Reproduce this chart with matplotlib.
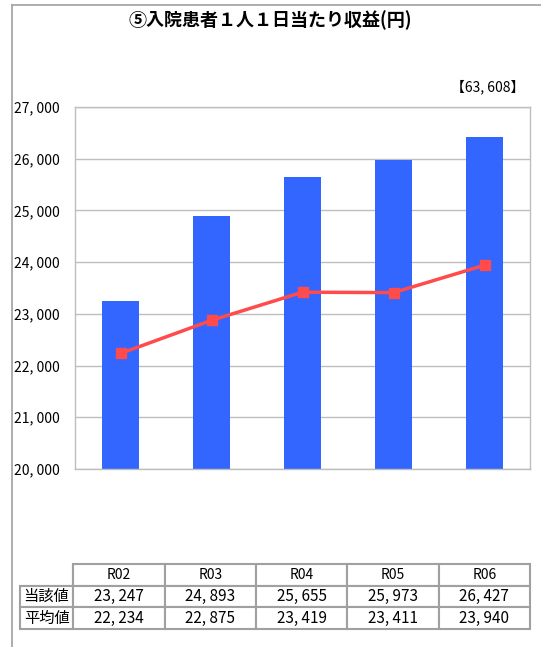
import matplotlib
matplotlib.use("Agg")
import matplotlib.pyplot as plt
from matplotlib.lines import Line2D
import numpy as np

plt.rcParams['font.family'] = ['Noto Sans CJK JP', 'DejaVu Sans']

# data
years = ['R02', 'R03', 'R04', 'R05', 'R06']
own_values = [23247, 24893, 25655, 25973, 26427]
avg_values = [22234, 22875, 23419, 23411, 23940]
row_labels = ['当該値', '平均値']
title = '⑤入院患者１人１日当たり収益(円)'
note = '【63, 608】'

BAR_COLOR = '#3366FF'
LINE_COLOR = '#FF4B4B'
GRID_COLOR = '#BEBEBE'


def fmt(v):
    return '{:,}'.format(v).replace(',', ', ')


fig = plt.figure(figsize=(5.41, 6.47), dpi=100)
W, H = 541, 647
ax = fig.add_axes([75 / W, 1 - 469 / H, 455 / W, 362 / H])

x = np.arange(len(years))
ax.bar(x, own_values, width=0.4, color=BAR_COLOR, zorder=2)
ax.plot(x, avg_values, color=LINE_COLOR, lw=2.5, marker='s', ms=7, zorder=3)

ax.set_xlim(-0.5, len(years) - 0.5)
ax.set_ylim(20000, 27000)
yt = np.arange(20000, 27001, 1000)
ax.set_yticks(yt)
ax.set_yticklabels([fmt(v) for v in yt], fontsize=10)
ax.set_xticks([])
ax.tick_params(axis='y', length=0, pad=11)
ax.grid(axis='y', color=GRID_COLOR, lw=1, zorder=0)
for s in ax.spines.values():
    s.set_color(GRID_COLOR)
    s.set_linewidth(1)

# data table under the plot
cell_text = [[fmt(v) for v in own_values], [fmt(v) for v in avg_values]]
tbl_rows = [[''] + years] + [[lab] + row for lab, row in zip(row_labels, cell_text)]
label_w = 53 / 455
col_w = 1.0 / len(years)
tbl = ax.table(cellText=tbl_rows, cellLoc='center',
               colWidths=[label_w] + [col_w] * len(years),
               bbox=[-55 / 455, -160 / 362, 1 + 55 / 455, 65 / 362])
tbl.auto_set_font_size(False)
for (r, c), cell in tbl.get_celld().items():
    cell.set_edgecolor('#A0A0A0')
    cell.set_linewidth(1.5)
    cell.get_text().set_fontsize(11 if r > 0 else 10)
    if r == 0 and c == 0:
        cell.visible_edges = 'BR'

fig.text(270 / W, 1 - 20 / H, title, ha='center', va='center',
         fontsize=13, fontweight='bold')
fig.text(524 / W, 1 - 87 / H, note, ha='right', va='center', fontsize=10)

# outer frame lines
fig.add_artist(Line2D([12 / W, 12 / W], [0, 1 - 5 / H], color='#A0A0A0', lw=1.2))
fig.add_artist(Line2D([12 / W, 1], [1 - 5 / H, 1 - 5 / H], color='#A0A0A0', lw=1.2))

fig.savefig('out.png', dpi=100)
